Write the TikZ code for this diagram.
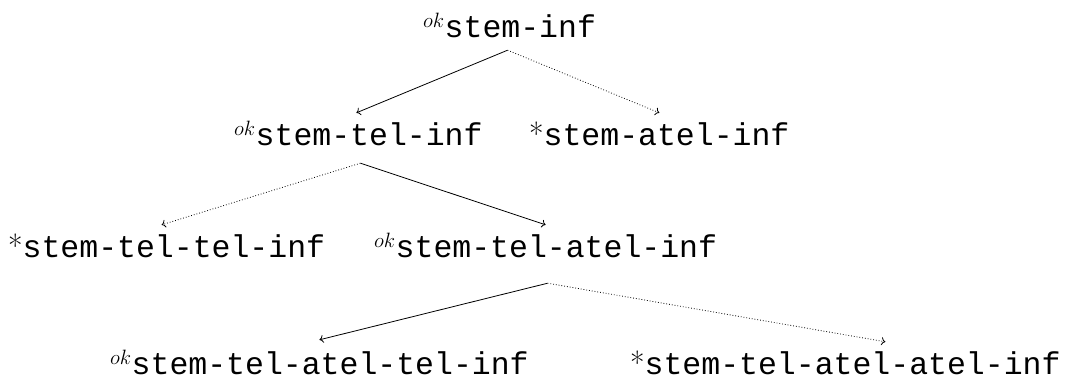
\documentclass[tikz,border=0pt]{standalone}
\usepackage{fontspec}
\setmonofont{Liberation Mono}
\usetikzlibrary{arrows.meta}
\begin{document}
\begin{tikzpicture}[x=1pt,y=-1pt,
  lbl/.style={anchor=base west,inner sep=0pt,text height=24pt,text depth=0pt,font=\fontsize{31.5}{37}\selectfont},
  good/.style={-{To[length=4pt,width=8pt]},line width=0.8pt},
  bad/.style={-{To[length=4pt,width=8pt]},line width=0.8pt,dotted}]
\useasboundingbox (0,0) rectangle (1071,381);
\node[lbl] (r1) at (423,37) {$^{ok}$\texttt{stem-inf}};
\node[lbl] (r2a) at (234,145) {$^{ok}$\texttt{stem-tel-inf}};
\node[lbl] (r2b) at (529,145) {*\texttt{stem-atel-inf}};
\node[lbl] (r3a) at (8,257) {*\texttt{stem-tel-tel-inf}};
\node[lbl] (r3b) at (374,257) {$^{ok}$\texttt{stem-tel-atel-inf}};
\node[lbl] (r4a) at (110,374) {$^{ok}$\texttt{stem-tel-atel-tel-inf}};
\node[lbl] (r4b) at (630,374) {*\texttt{stem-tel-atel-atel-inf}};
\draw[good] ([xshift=-2pt,yshift=-13pt]r1.south) -- ([xshift=-2pt,yshift=8pt]r2a.north);
\draw[bad] ([xshift=-2pt,yshift=-13pt]r1.south) -- ([yshift=8pt]r2b.north);
\draw[bad] ([xshift=2pt,yshift=-18pt]r2a.south) -- ([xshift=-5pt,yshift=8pt]r3a.north);
\draw[good] ([xshift=2pt,yshift=-18pt]r2a.south) -- ([yshift=8pt]r3b.north);
\draw[good] ([xshift=2pt,yshift=-26pt]r3b.south) -- ([yshift=10pt]r4a.north);
\draw[bad] ([xshift=2pt,yshift=-26pt]r3b.south) -- ([xshift=40pt,yshift=8pt]r4b.north);
\end{tikzpicture}
\end{document}
